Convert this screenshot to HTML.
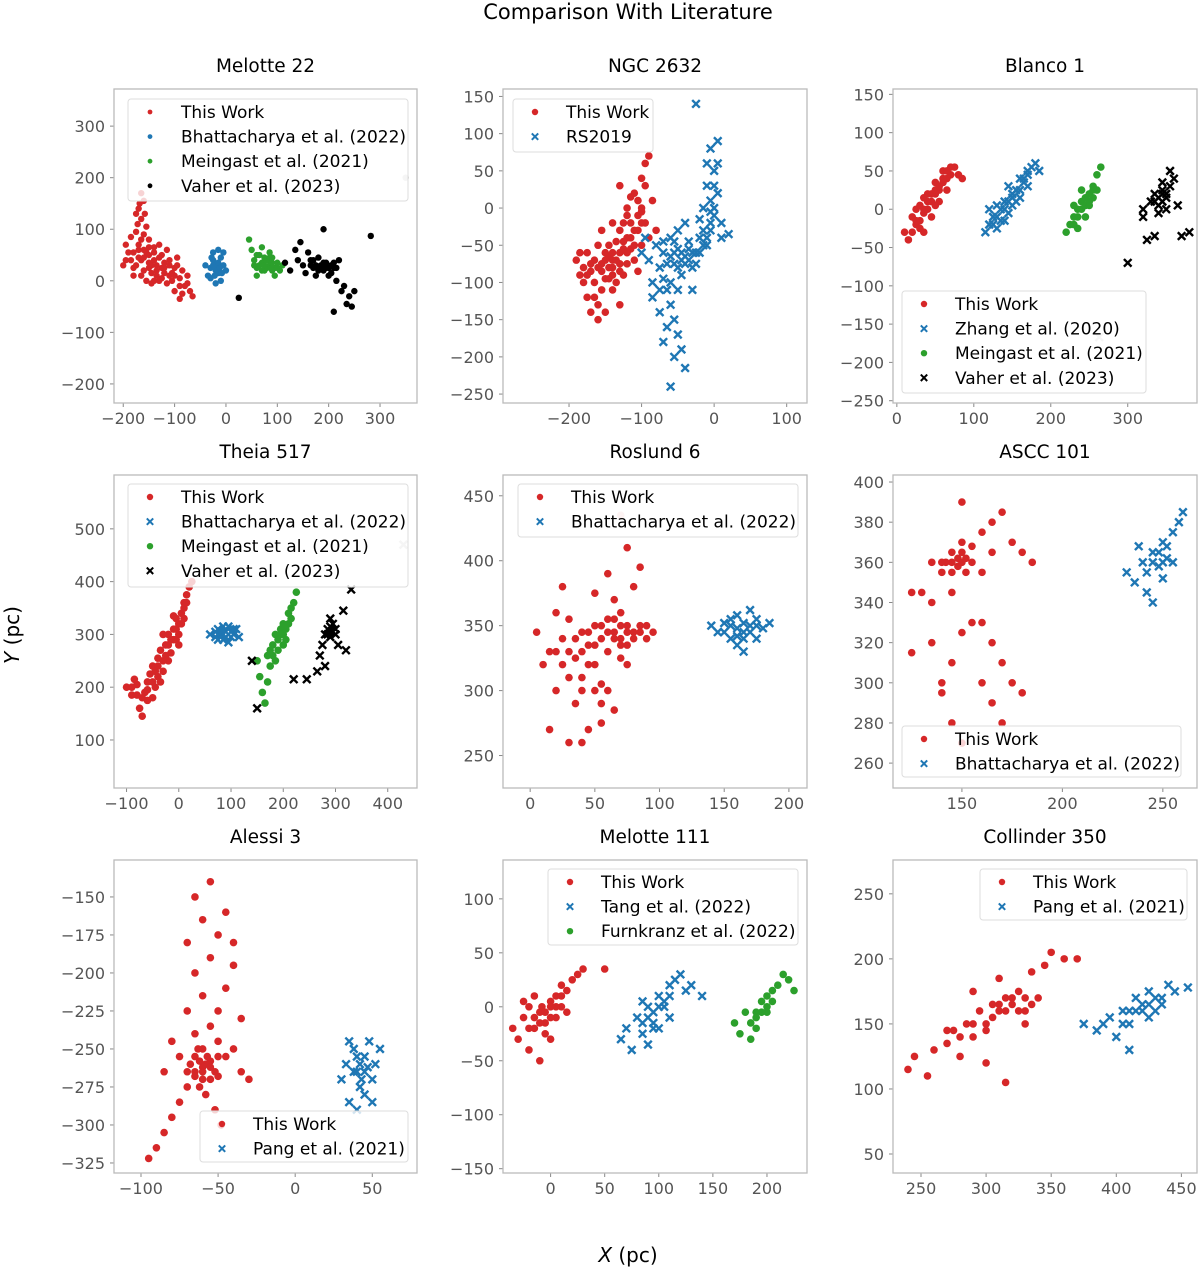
<!DOCTYPE html>
<html><head><meta charset="utf-8"><style>
body{margin:0;background:#fff;}
svg{display:block;font-family:"DejaVu Sans","Liberation Sans",sans-serif;}
</style></head><body>
<svg id="fig" width="1200" height="1269" viewBox="0 0 1200 1269">
<text x="628" y="19" font-size="21" text-anchor="middle" fill="#000">Comparison With Literature</text>
<text x="628" y="1262" font-size="20" text-anchor="middle" fill="#000"><tspan font-style="italic">X</tspan> (pc)</text>
<text x="0" y="0" font-size="20" text-anchor="middle" fill="#000" transform="translate(19,635) rotate(-90)"><tspan font-style="italic">Y</tspan> (pc)</text>
</svg>
<script>
// ---- data ----
const m22Red=[[-165,170],[-160,155],[-170,140],[-158,130],[-165,120],[-172,110],[-155,105],[-175,95],[-160,90],[-185,85],[-150,80],[-195,70],[-170,70],[-140,65],[-180,55],[-155,55],[-125,50],[-195,40],[-165,40],[-140,40],[-110,40],[-180,25],[-150,25],[-125,25],[-100,25],[-85,20],[-165,10],[-135,10],[-110,10],[-90,5],[-145,-5],[-115,-5],[-80,-10],[-100,-20],[-70,-20],[-65,-30],[-90,-35],[-130,45],[-145,15],[-120,35],[-105,0],[-175,30],[-200,30],[-160,60],[-130,70],[-95,45],[-75,10],[-115,60],[-150,35],[-135,30],[-120,15],[-160,20],[-170,45],[-185,40],[-140,0],[-125,5],[-150,50],[-145,30],[-160,45],[-135,20],[-120,25],[-110,30],[-130,0],[-155,0],[-170,60],[-165,80],[-175,130],[-168,150],[-150,65],[-100,10],[-90,-10],[-85,-25],[-75,-5],[-140,55],[-190,55],[-180,10],[-105,15],[-95,30]];
const m22Blue=[[-35,10],[-30,25],[-25,40],[-20,30],[-15,15],[-10,45],[-5,30],[0,20],[-25,55],[-15,60],[-40,30],[-30,5],[-20,-5],[-10,0],[-20,20],[-5,55],[-25,30],[-15,35],[-28,45],[-12,25],[-22,10],[-8,15]];
const m22Green=[[45,80],[50,60],[55,40],[60,25],[65,50],[70,35],[75,20],[80,40],[85,30],[90,45],[95,25],[100,35],[105,20],[110,30],[70,65],[60,10],[85,55],[95,10],[75,45],[65,30],[80,25],[90,35],[55,30],[70,20],[85,45],[100,25],[60,50],[75,30],[90,20]];
const m22Black=[[115,35],[125,20],[135,60],[140,40],[150,30],[155,15],[160,55],[165,40],[170,25],[175,10],[180,45],[185,30],[190,20],[195,35],[200,10],[205,30],[210,25],[215,0],[220,40],[225,-20],[230,-10],[235,-45],[240,-30],[245,-50],[250,-20],[190,100],[145,75],[210,-60],[25,-33],[282,87],[185,25],[195,25],[175,30],[165,30],[180,20],[190,35],[200,25],[210,35],[170,40],[205,15],[215,25]];
const m22Faint=[[350,200]];

const n26Red=[[-190,-70],[-180,-100],[-175,-60],[-170,-85],[-165,-120],[-160,-50],[-155,-75],[-150,-95],[-145,-65],[-140,-80],[-135,-45],[-130,-60],[-125,-90],[-120,-40],[-115,-55],[-110,-70],[-105,-30],[-100,-50],[-95,-20],[-90,-40],[-140,-110],[-160,-150],[-150,-140],[-130,-130],[-120,0],[-110,20],[-100,40],[-95,60],[-105,-10],[-115,15],[-125,-20],[-85,10],[-90,70],[-130,30],[-140,-20],[-185,-90],[-170,-140],[-155,-30],[-100,-5],[-80,-30],[-135,-100],[-145,-50],[-120,-75],[-105,-85],[-165,-70],[-150,-60],[-140,-70],[-130,-75],[-155,-85],[-125,-55],[-145,-80],[-135,-70],[-150,-70],[-140,-60],[-130,-85],[-120,-60],[-115,-40],[-110,-50],[-160,-80],[-170,-75],[-175,-90],[-180,-80],[-165,-100],[-155,-110],[-145,-95],[-125,-45],[-110,-30],[-100,-20],[-115,-20],[-105,10],[-120,-10],[-95,30],[-100,0],[-130,-30],[-175,-120],[-160,-130],[-185,-60],[-140,-90]];
const n26Blue=[[-90,-70],[-85,-100],[-80,-50],[-75,-80],[-70,-60],[-65,-110],[-60,-40],[-55,-75],[-50,-55],[-45,-90],[-40,-65],[-35,-45],[-30,-80],[-25,-60],[-20,-40],[-15,-30],[-10,-50],[-5,-20],[0,-10],[5,20],[-5,10],[0,50],[-5,80],[5,90],[-10,30],[-15,0],[-20,-15],[10,-40],[20,-35],[-60,-130],[-55,-150],[-50,-170],[-45,-190],[-40,-215],[-60,-240],[-70,-180],[-75,-140],[-85,-120],[-30,-110],[-70,-95],[-50,-30],[-40,-20],[-25,140],[-95,-40],[-100,-60],[-45,-70],[-55,-60],[-35,-70],[-50,-80],[-45,-60],[-40,-75],[-35,-55],[-30,-60],[-25,-75],[-55,-45],[-60,-65],[-65,-75],[-70,-45],[-20,-60],[-15,-50],[-10,-40],[-5,-30],[0,0],[-10,60],[5,60],[0,30],[-5,-5],[10,-20],[-75,-110],[-60,-100],[-50,-110],[-65,-160],[-55,-200]];

const b1Red=[[15,-40],[20,-30],[25,-20],[20,-10],[30,-25],[35,-5],[40,0],[30,5],[45,10],[50,20],[40,20],[55,25],[60,35],[50,35],[65,40],[70,45],[60,50],[75,55],[80,45],[45,-10],[55,10],[25,0],[35,15],[65,25],[70,55],[85,40],[10,-30],[35,-30],[30,-15],[40,10],[50,25],[55,30],[60,40],[45,20],[35,0],[25,-15],[65,50],[50,5]];
const b1Blue=[[115,-30],[120,-20],[125,-10],[130,-25],[135,0],[140,10],[145,-5],[150,20],[155,25],[160,15],[165,35],[170,45],[175,55],[180,60],[150,5],[140,-15],[160,40],[170,30],[130,5],[120,0],[185,50],[145,30],[140,0],[150,15],[160,25],[155,10],[165,40],[145,10],[130,-10],[170,50],[135,-15],[125,-20]];
const b1Green=[[220,-30],[225,-20],[230,-10],[235,0],[240,10],[245,5],[250,20],[255,30],[260,45],[265,55],[235,-25],[245,-10],[250,5],[255,15],[240,25],[260,25],[230,5],[240,0],[245,15],[250,10],[255,25],[235,-10],[230,-20]];
const b1Black=[[330,10],[335,20],[340,5],[345,25],[350,15],[355,30],[340,-5],[350,0],[345,35],[355,50],[360,40],[320,-10],[325,-40],[335,-35],[370,-35],[380,-30],[300,-70],[365,5],[320,0],[340,15],[345,10],[350,20],[335,10],[345,20]];
const b1Faint=[[263,-167]];

const t5Red=[[-100,200],[-90,185],[-80,205],[-75,160],[-70,145],[-65,190],[-60,210],[-55,225],[-50,240],[-45,200],[-40,255],[-35,270],[-30,230],[-25,280],[-20,300],[-15,265],[-10,310],[-5,290],[0,320],[5,340],[10,360],[15,375],[20,390],[25,400],[-10,335],[0,280],[-40,220],[-60,175],[-85,215],[-50,180],[-20,250],[-30,300],[10,330],[-30,250],[-20,280],[-10,290],[-5,310],[0,300],[-15,290],[-25,260],[-40,240],[-50,210],[-60,195],[-70,180],[5,320],[10,350],[-35,210],[-45,230],[-80,185],[-90,200],[15,360],[-5,330]];
const t5Blue=[[60,300],[70,295],[75,310],[80,300],[85,290],[90,305],[95,315],[100,295],[105,300],[110,310],[115,295],[95,285],[85,315],[75,290],[80,305],[90,295],[100,305],[105,310],[70,305]];
const t5Green=[[150,250],[155,220],[160,190],[165,170],[170,260],[175,240],[180,280],[185,300],[190,270],[195,310],[200,320],[205,290],[210,340],[215,330],[220,360],[225,380],[200,300],[185,250],[170,210],[190,290],[195,300],[205,310],[210,320],[180,260],[175,270],[200,280],[215,350]];
const t5Black=[[270,260],[275,280],[280,300],[285,310],[290,295],[295,320],[300,300],[290,330],[305,280],[280,240],[265,230],[315,345],[330,385],[220,215],[245,215],[150,160],[140,250],[320,270],[285,300],[295,305],[290,315],[300,310]];
const t5Faint=[[430,470]];

const r6Red=[[5,345],[10,320],[15,330],[20,300],[20,360],[25,340],[30,310],[30,355],[35,325],[35,290],[40,345],[40,300],[45,335],[45,270],[50,320],[50,350],[55,305],[55,340],[60,330],[60,355],[65,345],[65,370],[70,340],[70,360],[75,350],[75,335],[80,345],[80,380],[85,350],[90,340],[95,345],[60,390],[75,410],[85,395],[30,260],[40,260],[55,275],[65,285],[15,270],[25,380],[50,375],[45,320],[60,300],[70,325],[60,345],[65,340],[70,350],[75,345],[80,340],[85,345],[65,355],[70,335],[55,350],[50,335],[45,345],[40,330],[35,340],[30,330],[25,320],[20,330],[50,300],[40,310],[55,290],[75,320],[90,350]];
const r6Blue=[[140,350],[145,345],[150,352],[155,340],[160,358],[165,345],[170,350],[175,340],[180,348],[185,352],[160,335],[170,362],[155,355],[165,330],[150,345],[160,348],[165,352],[170,345],[175,350],[155,350],[165,340],[175,355],[160,342]];
const r6Faint=[[70,435]];

const a101Red=[[130,345],[135,340],[140,355],[142,360],[145,365],[148,358],[150,370],[152,362],[155,368],[160,375],[165,380],[170,385],[175,370],[180,365],[185,360],[160,355],[165,365],[150,390],[145,345],[125,345],[135,320],[140,300],[145,310],[150,325],[155,330],[160,300],[165,320],[170,310],[175,300],[180,295],[165,290],[170,280],[140,295],[145,280],[125,315],[150,270],[160,330],[135,360],[145,360],[148,362],[150,360],[152,355],[140,360],[150,365],[155,360],[145,355]];
const a101Blue=[[232,355],[236,350],[240,360],[242,345],[245,365],[248,358],[250,370],[252,362],[255,375],[258,380],[260,385],[250,352],[245,340],[238,368],[255,360],[245,360],[248,365],[250,360],[252,368],[242,355]];

const al3Red=[[-95,-322],[-90,-315],[-85,-305],[-80,-295],[-75,-285],[-70,-275],[-65,-265],[-60,-262],[-55,-258],[-50,-268],[-45,-255],[-40,-250],[-35,-265],[-30,-270],[-60,-250],[-65,-240],[-55,-235],[-50,-225],[-45,-210],[-60,-215],[-65,-200],[-55,-190],[-40,-195],[-50,-175],[-60,-165],[-65,-150],[-55,-140],[-45,-160],[-40,-180],[-70,-225],[-75,-255],[-80,-245],[-85,-265],[-62,-275],[-58,-280],[-52,-290],[-48,-300],[-70,-180],[-35,-230],[-50,-245],[-65,-255],[-55,-270],[-60,-265],[-58,-260],[-62,-258],[-55,-262],[-65,-268],[-60,-270],[-57,-255],[-63,-250],[-52,-265],[-68,-260],[-70,-265],[-50,-255]];
const al3Blue=[[30,-270],[33,-260],[35,-285],[38,-250],[40,-265],[42,-275],[45,-255],[48,-245],[50,-270],[52,-260],[55,-250],[40,-290],[45,-280],[35,-245],[50,-285],[42,-260],[45,-265],[40,-255],[47,-262],[43,-270],[38,-265]];

const m111Red=[[-35,-20],[-30,-30],[-25,-10],[-20,-40],[-20,0],[-15,-20],[-10,-5],[-10,-50],[-5,-15],[0,5],[0,-30],[5,10],[10,0],[10,20],[15,15],[20,25],[25,30],[-25,5],[-5,-25],[5,-10],[15,-5],[-15,10],[30,35],[50,35],[-5,-5],[0,-10],[-10,-15],[5,0],[-15,-10],[0,0],[-8,0],[10,10],[-20,-20]];
const m111Blue=[[65,-30],[70,-20],[75,-40],[80,-10],[85,-25],[90,0],[95,-15],[100,10],[105,0],[110,20],[115,25],[120,30],[125,15],[130,20],[140,10],[90,-35],[100,-20],[110,-10],[85,5],[95,-5],[100,0],[90,-10],[105,5],[95,-20],[110,10],[85,-15]];
const m111Green=[[170,-15],[175,-25],[180,-5],[185,-30],[190,-10],[195,5],[200,-5],[205,15],[210,20],[215,30],[220,25],[225,15],[190,-20],[200,10],[195,-5],[200,0],[190,-5],[205,5],[185,-15]];

const c350Red=[[240,115],[245,125],[255,110],[260,130],[270,135],[275,145],[280,125],[285,150],[290,140],[295,160],[300,145],[305,155],[310,165],[315,160],[320,170],[325,175],[330,160],[335,190],[340,170],[345,195],[350,205],[360,200],[370,200],[300,120],[315,105],[290,175],[310,185],[330,150],[320,165],[315,170],[325,160],[310,160],[300,150],[290,150],[280,140],[270,145],[330,170],[335,165],[305,165]];
const c350Blue=[[375,150],[385,145],[395,155],[400,140],[405,160],[410,150],[415,170],[420,165],[425,175],[430,160],[435,170],[440,180],[445,175],[455,178],[410,130],[390,150],[425,155],[420,160],[415,160],[425,165],[410,160],[430,170],[405,150],[435,165]];

const RED='#d62728',BLUE='#1f77b4',GREEN='#2ca02c',BLK='#000';
const panels=[
 {name:'melotte-22',title:'Melotte 22',box:[114,89,417,403],xd:[-218,372],yd:[-237,372],xt:[-200,-100,0,100,200,300],yt:[-200,-100,0,100,200,300],
  series:[[m22Red,RED,'d','This Work'],[m22Blue,BLUE,'d','Bhattacharya et al. (2022)'],[m22Green,GREEN,'d','Meingast et al. (2021)'],[m22Black,BLK,'d','Vaher et al. (2023)'],[m22Faint,'#ccc','d',null]],leg:[128,99,408,201]},
 {name:'ngc-2632',title:'NGC 2632',box:[503,89,807,403],xd:[-291,128],yd:[-262,160],xt:[-200,-100,0,100],yt:[-250,-200,-150,-100,-50,0,50,100,150],
  series:[[n26Red,RED,'o','This Work'],[n26Blue,BLUE,'x','RS2019']],leg:[513,99,653,152]},
 {name:'blanco-1',title:'Blanco 1',box:[893,89,1197,403],xd:[-5,390],yd:[-253,157],xt:[0,100,200,300],yt:[-250,-200,-150,-100,-50,0,50,100,150],
  series:[[b1Red,RED,'o','This Work'],[b1Blue,BLUE,'x','Zhang et al. (2020)'],[b1Green,GREEN,'o','Meingast et al. (2021)'],[b1Black,BLK,'x','Vaher et al. (2023)'],[b1Faint,'#ccc','x',null]],leg:[902,291,1146,393]},
 {name:'theia-517',title:'Theia 517',box:[114,475,417,788],xd:[-124,456],yd:[9,602],xt:[-100,0,100,200,300,400],yt:[100,200,300,400,500],
  series:[[t5Red,RED,'o','This Work'],[t5Blue,BLUE,'x','Bhattacharya et al. (2022)'],[t5Green,GREEN,'o','Meingast et al. (2021)'],[t5Black,BLK,'x','Vaher et al. (2023)'],[t5Faint,'#ccc','x',null]],leg:[128,484,408,587]},
 {name:'roslund-6',title:'Roslund 6',box:[503,475,807,788],xd:[-21,214],yd:[225,466],xt:[0,50,100,150,200],yt:[250,300,350,400,450],
  series:[[r6Red,RED,'o','This Work'],[r6Blue,BLUE,'x','Bhattacharya et al. (2022)'],[r6Faint,'#f4c4c4','o',null]],leg:[518,484,798,537]},
 {name:'ascc-101',title:'ASCC 101',box:[893,475,1197,788],xd:[115.7,267],yd:[247.6,403.5],xt:[150,200,250],yt:[260,280,300,320,340,360,380,400],
  series:[[a101Red,RED,'o','This Work'],[a101Blue,BLUE,'x','Bhattacharya et al. (2022)']],leg:[902,726,1181,777]},
 {name:'alessi-3',title:'Alessi 3',box:[114,860,417,1173],xd:[-117.5,79],yd:[-331.6,-125.7],xt:[-100,-50,0,50],yt:[-325,-300,-275,-250,-225,-200,-175,-150],
  series:[[al3Red,RED,'o','This Work'],[al3Blue,BLUE,'x','Pang et al. (2021)']],leg:[200,1111,408,1162]},
 {name:'melotte-111',title:'Melotte 111',box:[503,860,807,1173],xd:[-44,237],yd:[-154,136],xt:[0,50,100,150,200],yt:[-150,-100,-50,0,50,100],
  series:[[m111Red,RED,'o','This Work'],[m111Blue,BLUE,'x','Tang et al. (2022)'],[m111Green,GREEN,'o','Furnkranz et al. (2022)']],leg:[548,869,798,945]},
 {name:'collinder-350',title:'Collinder 350',box:[893,860,1197,1173],xd:[228.5,462],yd:[35.4,276],xt:[250,300,350,400,450],yt:[50,100,150,200,250],
  series:[[c350Red,RED,'o','This Work'],[c350Blue,BLUE,'x','Pang et al. (2021)']],leg:[980,869,1187,920]}
];
const NS='http://www.w3.org/2000/svg';
const svg=document.getElementById('fig');
function mk(tag,attrs,parent){const e=document.createElementNS(NS,tag);for(const k in attrs)e.setAttribute(k,attrs[k]);(parent||svg).appendChild(e);return e;}
function fmt(v){return v<0?'\u2212'+(-v):String(v);}
function marker(g,kind,color,x,y,big){
  if(kind==='x'){const s=big?3.8:3.2;
    return mk('path',{d:`M${x-s},${y-s}L${x+s},${y+s}M${x-s},${y+s}L${x+s},${y-s}`,stroke:color,'stroke-width':big?2.4:2},g);}
  return mk('circle',{cx:x,cy:y,r:kind==='d'?(big?3.2:2.4):(big?3.8:3.2),fill:color},g);
}
panels.forEach(P=>{
  const [L,T,R,B]=P.box;
  const sx=v=>L+(v-P.xd[0])/(P.xd[1]-P.xd[0])*(R-L);
  const sy=v=>B-(v-P.yd[0])/(P.yd[1]-P.yd[0])*(B-T);
  const g=mk('g',{});
  
  
  const t=mk('text',{x:(L+R)/2,y:T-17,'font-size':18.5,'text-anchor':'middle',fill:'#000'},g);t.textContent=P.title;
  
  
  P.xt.forEach(v=>{const x=sx(v);
    mk('line',{x1:x,y1:B,x2:x,y2:B+4,stroke:'#888','stroke-width':1},g);
    const tx=mk('text',{x:x,y:B+21,'font-size':16,'text-anchor':'middle',fill:'#555'},g);tx.textContent=fmt(v);
    
    });
  P.yt.forEach(v=>{const y=sy(v);
    mk('line',{x1:L-4,y1:y,x2:L,y2:y,stroke:'#888','stroke-width':1},g);
    const ty=mk('text',{x:L-9,y:y+6,'font-size':16,'text-anchor':'end',fill:'#555'},g);ty.textContent=fmt(v);
    
    });
  const pts=mk('g',{},g);
  
  
  P.series.forEach(s=>{s[0].forEach(d=>{marker(pts,s[2],s[1],sx(d[0]),sy(d[1]),true);});});
  mk('rect',{x:L,y:T,width:R-L,height:B-T,fill:'none',stroke:'#bbb','stroke-width':1.3},g);
  const [lx1,ly1,lx2,ly2]=P.leg;
  const lg=mk('g',{},g);
  
  
  mk('rect',{x:lx1,y:ly1,width:lx2-lx1,height:ly2-ly1,rx:3,fill:'rgba(255,255,255,0.8)',stroke:'#ddd','stroke-width':1},lg);
  let i=0;
  P.series.forEach(s=>{ if(!s[3])return;
    const yy=ly1+13+i*24.6;
    marker(lg,s[2],s[1],lx1+22,yy,false);
    const lt=mk('text',{x:lx1+53,y:yy+6,'font-size':17,fill:'#000'},lg);lt.textContent=s[3];
    
    
    i++;});
});
</script>
</body></html>
